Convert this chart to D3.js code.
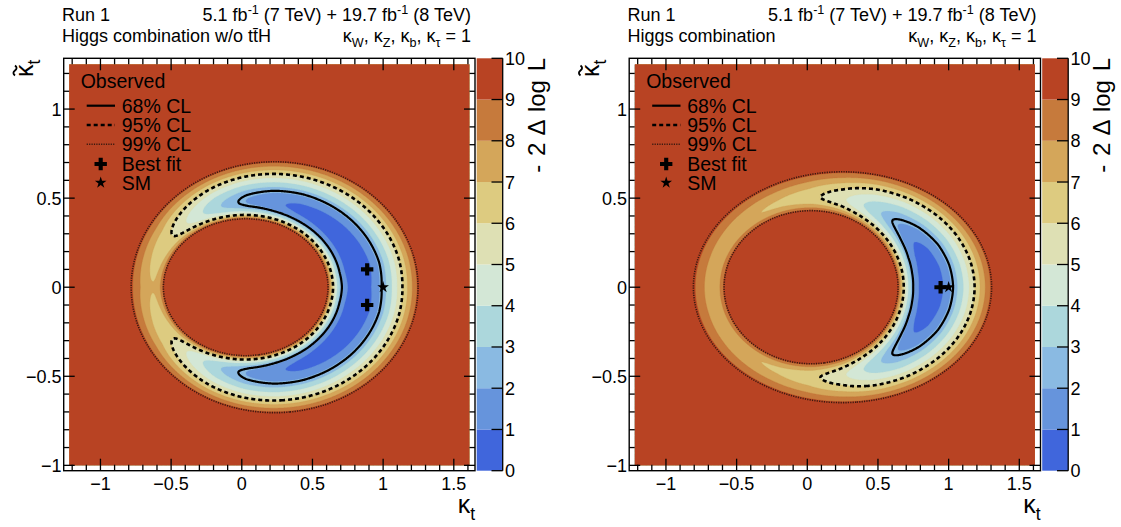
<!DOCTYPE html>
<html>
<head>
<meta charset="utf-8">
<script src="https://cdn.jsdelivr.net/npm/d3@7"></script>
<style>
  body { margin: 0; background: #fff; }
  svg { display: block; }
  text { font-family: "Liberation Sans", Arial, Helvetica, sans-serif; fill: #000; }
</style>
</head>
<body>
<svg id="chart" width="1121" height="527"></svg>
<script>
// -2 Δ log L colour bands, one per unit from 0 to 10
const bandEdges = [0, 1, 2, 3, 4, 5, 6, 7, 8, 9];
const bandColors = ["#4066dc", "#6694dc", "#8abae2", "#acd7dc", "#d3e7d6",
                    "#dee0b4", "#ddcb80", "#d4a65a", "#c67a3c", "#b84323"];
const colorTicks = [0, 1, 2, 3, 4, 5, 6, 7, 8, 9, 10];

// confidence-level contours (2 parameters)
const clLevels = [2.30, 5.99, 9.21];
const clLabels = ["68% CL", "95% CL", "99% CL"];

// axis ranges and the scanned region
const xDomain = [-1.26, 1.65];
const yDomain = [-1.03, 1.285];
const scanX = [-1.22, 1.61];
const scanY = [-1.0, 1.25];
const xTicks = [-1, -0.5, 0, 0.5, 1, 1.5];
const yTicks = [-1, -0.5, 0, 0.5, 1];

// allowed ring: inner / outer 99% CL boundaries as [centre κt, semi-axis κt, semi-axis κ̃t]
const innerLeft = [0.028, 0.583, 0.385];
const outerLeft = [0.232, 1.015, 0.704];
const innerRight = [0.027, 0.616, 0.430];
const outerRight = [0.249, 1.055, 0.648];

// minimum of -2 Δ log L across the ring, by polar angle (deg) around the outer centre
const ringAngles = [0, 15, 30, 45, 60, 75, 90, 105, 120, 135, 150, 165, 180];
const ringMinLeft = [0.25, 0.02, 0.15, 0.30, 0.50, 0.75, 1.2, 1.9, 3.0, 4.5, 6.0, 6.6, 7.1];
const ringMinRight = [0.0, 0.15, 0.55, 1.3, 2.3, 3.6, 5.2, 6.3, 6.8, 7.1, 7.3, 7.4, 7.4];
// radial profile: position of the valley across the ring and its steepness
const valleyPos = [0.46, 0.46];
const valleyPower = [2.0, 1.8];

const bestFitLeft = [[0.887, 0.10], [0.887, -0.10]];
const bestFitRight = [[0.943, 0.0]];
const smPoint = [1, 0];

const titlesLeft = ["Run 1", "Higgs combination w/o t", "t\u0304", "H"];
const titlesRight = ["Run 1", "Higgs combination", "", ""];

const svg = d3.select("#chart");

function ringMinimum(mins, angle) {
  const k = angle / (ringAngles[1] - ringAngles[0]);
  const i = Math.min(Math.floor(k), mins.length - 2);
  const f = k - i;
  return mins[i] * (1 - f) + mins[i + 1] * f;
}

function nll(px, py, inner, outer, mins, tc, power) {
  const edge = clLevels[2];
  const ei = Math.hypot((px - inner[0]) / inner[1], py / inner[2]);
  const eo = Math.hypot((px - outer[0]) / outer[1], py / outer[2]);
  if (ei < 1) return edge + 25 * (1 - ei);
  if (eo > 1) return edge + 25 * (eo - 1);
  const t = (ei - 1) / Math.max(ei - eo, 1e-9);
  const ang = Math.atan2(Math.abs(py) / outer[2], (px - outer[0]) / outer[1]) * 180 / Math.PI;
  const vm = ringMinimum(mins, ang);
  const d = t < tc ? (tc - t) / tc : (t - tc) / (1 - tc);
  return vm + (edge - vm) * Math.pow(Math.min(d, 1), power);
}

// text with sub/superscripts; the baseline shift is undone on the following piece
function richText(sel, parts, size) {
  let carry = 0;
  parts.forEach(([s, kind]) => {
    const ts = sel.append("tspan").text(s);
    let shift = 0;
    if (kind === "sub") shift = size * 0.28;
    if (kind === "sup") shift = -size * 0.4;
    if (shift || carry) ts.attr("dy", shift + carry);
    if (kind) ts.attr("font-size", size * 0.7);
    carry = -shift;
  });
}

function drawPanel(offset, id, inner, outer, mins, tc, power, bestFits, titles) {
  const g = svg.append("g").attr("transform", `translate(${offset},0)`);
  const x = d3.scaleLinear().domain(xDomain).range([63.7, 475]);
  const y = d3.scaleLinear().domain(yDomain).range([470.7, 58.3]);

  // sample the likelihood surface
  const step = 0.005;
  const nx = Math.round((scanX[1] - scanX[0]) / step) + 1;
  const ny = Math.round((scanY[1] - scanY[0]) / step) + 1;
  const vals = new Array(nx * ny);
  for (let j = 0; j < ny; j++) {
    const yy = scanY[1] - j * step;
    for (let i = 0; i < nx; i++) {
      vals[j * nx + i] = nll(scanX[0] + i * step, yy, inner, outer, mins, tc, power);
    }
  }
  const proj = d3.geoTransform({
    point(cx, cy) {
      this.stream.point(x(scanX[0] + (cx - 0.5) * step), y(scanY[1] - (cy - 0.5) * step));
    }
  });
  const path = d3.geoPath(proj);

  g.append("clipPath").attr("id", id).append("rect")
    .attr("x", x(scanX[0])).attr("y", y(scanY[1]))
    .attr("width", x(scanX[1]) - x(scanX[0])).attr("height", y(scanY[0]) - y(scanY[1]));

  const plot = g.append("g").attr("clip-path", `url(#${id})`);
  const bands = d3.contours().size([nx, ny]).thresholds(bandEdges)(vals);
  plot.selectAll("path.band").data(bands).join("path")
    .attr("class", "band")
    .attr("d", path)
    .attr("fill", d => bandColors[bandEdges.indexOf(d.value)])
    .attr("stroke", d => bandColors[bandEdges.indexOf(d.value)])
    .attr("stroke-width", 0.3);

  // CL contour lines
  const neg = vals.map(v => -v);
  const lines = d3.contours().size([nx, ny]).thresholds(clLevels.map(v => -v))(neg);
  const lineStyle = {
    "-2.3": { w: 2.2, dash: null },
    "-5.99": { w: 2.6, dash: "4,3" },
    "-9.21": { w: 1.6, dash: "1.2,1.2" }
  };
  plot.selectAll("path.cl").data(lines).join("path")
    .attr("class", "cl")
    .attr("d", path)
    .attr("fill", "none")
    .attr("stroke", d => d.value < -9 ? "#3a1a10" : "#000")
    .attr("stroke-width", d => lineStyle[String(d.value)].w)
    .attr("stroke-dasharray", d => lineStyle[String(d.value)].dash);

  // best fit and SM markers
  const cross = d3.symbol().type(d3.symbolCross).size(85);
  const star = d3.symbol().type(d3.symbolStar).size(42);
  g.selectAll("path.bf").data(bestFits).join("path")
    .attr("class", "bf").attr("d", cross)
    .attr("transform", d => `translate(${x(d[0])},${y(d[1])})`);
  g.append("path").attr("d", star)
    .attr("transform", `translate(${x(smPoint[0])},${y(smPoint[1])})`);

  // frame and ticks on all sides
  g.append("rect").attr("x", 63.7).attr("y", 58.3).attr("width", 475 - 63.7).attr("height", 470.7 - 58.3)
    .attr("fill", "none").attr("stroke", "#000").attr("stroke-width", 1.4);
  const tk = g.append("g").attr("stroke", "#000").attr("stroke-width", 1.3);
  const minorX = d3.range(-12, 17).map(v => v / 10);
  const minorY = d3.range(-10, 13).map(v => v / 10);
  minorX.forEach(v => {
    const major = xTicks.some(t => Math.abs(t - v) < 1e-6);
    const len = major ? 12 : 6;
    tk.append("line").attr("x1", x(v)).attr("x2", x(v)).attr("y1", 470.7).attr("y2", 470.7 - len);
    tk.append("line").attr("x1", x(v)).attr("x2", x(v)).attr("y1", 58.3).attr("y2", 58.3 + len);
  });
  minorY.forEach(v => {
    const major = yTicks.some(t => Math.abs(t - v) < 1e-6);
    const len = major ? 11 : 5.5;
    tk.append("line").attr("y1", y(v)).attr("y2", y(v)).attr("x1", 63.7).attr("x2", 63.7 + len);
    tk.append("line").attr("y1", y(v)).attr("y2", y(v)).attr("x1", 475).attr("x2", 475 - len);
  });
  const fmt = v => (v < 0 ? "\u2212" : "") + String(Math.abs(v));
  g.selectAll("text.xl").data(xTicks).join("text").attr("class", "xl")
    .attr("x", d => x(d)).attr("y", 490).attr("text-anchor", "middle").attr("font-size", 18).text(fmt);
  g.selectAll("text.yl").data(yTicks).join("text").attr("class", "yl")
    .attr("x", 61.5).attr("y", d => y(d) + 6.5).attr("text-anchor", "end").attr("font-size", 18).text(fmt);

  // axis titles
  const xt = g.append("text").attr("x", 475).attr("y", 513).attr("text-anchor", "end").attr("font-size", 25);
  richText(xt, [["\u03ba", null], ["t", "sub"]], 25);
  const yt = g.append("g").attr("transform", "translate(33,57) rotate(-90)");
  const ytt = yt.append("text").attr("x", -20).attr("y", 0).attr("font-size", 25);
  richText(ytt, [["\u03ba", null], ["t", "sub"]], 25);
  yt.append("path").attr("d", "M-18.5,-18 q2.5,-3.2 5,0 t5,0").attr("fill", "none")
    .attr("stroke", "#000").attr("stroke-width", 1.8);

  // colour scale
  const z = d3.scaleLinear().domain([0, 10]).range([470.7, 58.3]);
  const cb = g.append("g");
  cb.selectAll("rect").data(bandEdges).join("rect")
    .attr("x", 476.7).attr("width", 26)
    .attr("y", d => z(d + 1)).attr("height", d => z(d) - z(d + 1))
    .attr("fill", (d, i) => bandColors[i]);
  cb.append("line").attr("x1", 502.7).attr("x2", 502.7).attr("y1", 58.3).attr("y2", 470.7)
    .attr("stroke", "#000").attr("stroke-width", 1.3);
  cb.selectAll("line.zt").data(colorTicks).join("line").attr("class", "zt")
    .attr("x1", 491.5).attr("x2", 502.7).attr("y1", d => z(d)).attr("y2", d => z(d))
    .attr("stroke", "#000").attr("stroke-width", 1.3);
  cb.selectAll("text").data(colorTicks).join("text")
    .attr("x", 505).attr("y", d => z(d) + 6.5).attr("font-size", 18).text(d => d);
  g.append("text").attr("transform", "translate(544.5,58) rotate(-90)")
    .attr("text-anchor", "end").attr("font-size", 24).attr("word-spacing", 2)
    .text("- 2 \u0394 log L");

  // header
  g.append("text").attr("x", 62).attr("y", 21).attr("font-size", 18).text(titles[0]);
  const h2 = g.append("text").attr("x", 62).attr("y", 42).attr("font-size", 18);
  h2.append("tspan").text(titles[1]);
  if (titles[2]) h2.append("tspan").text(titles[2]);
  if (titles[3]) h2.append("tspan").text(titles[3]);
  const lumi = g.append("text").attr("x", 471).attr("y", 21).attr("text-anchor", "end").attr("font-size", 18);
  richText(lumi, [["5.1 fb", null], ["-1", "sup"], [" (7 TeV) + 19.7 fb", null], ["-1", "sup"], [" (8 TeV)", null]], 18);
  const kap = g.append("text").attr("x", 471).attr("y", 42).attr("text-anchor", "end").attr("font-size", 18);
  richText(kap, [["\u03ba", null], ["W", "sub"], [", \u03ba", null], ["Z", "sub"], [", \u03ba", null], ["b", "sub"],
                 [", \u03ba", null], ["\u03c4", "sub"], [" = 1", null]], 18);

  // legend
  const lg = g.append("g");
  lg.append("text").attr("x", 80.7).attr("y", 88).attr("font-size", 19.5).text("Observed");
  const rowY = [105.7, 125, 144.3];
  clLevels.forEach((lv, i) => {
    const st = lineStyle[String(-lv)];
    lg.append("line").attr("x1", 86.7).attr("x2", 115).attr("y1", rowY[i]).attr("y2", rowY[i])
      .attr("stroke", i === 2 ? "#3a1a10" : "#000").attr("stroke-width", st.w).attr("stroke-dasharray", st.dash);
    lg.append("text").attr("x", 121.7).attr("y", rowY[i] + 7).attr("font-size", 19.5).text(clLabels[i]);
  });
  lg.append("path").attr("d", cross).attr("transform", "translate(100.7,164)");
  lg.append("text").attr("x", 121.7).attr("y", 171).attr("font-size", 19.5).text("Best fit");
  lg.append("path").attr("d", star).attr("transform", "translate(100.7,182.7)");
  lg.append("text").attr("x", 121.7).attr("y", 189.7).attr("font-size", 19.5).text("SM");
}

drawPanel(0, "clipL", innerLeft, outerLeft, ringMinLeft, valleyPos[0], valleyPower[0], bestFitLeft, titlesLeft);
drawPanel(565.5, "clipR", innerRight, outerRight, ringMinRight, valleyPos[1], valleyPower[1], bestFitRight, titlesRight);
</script>
</body>
</html>
